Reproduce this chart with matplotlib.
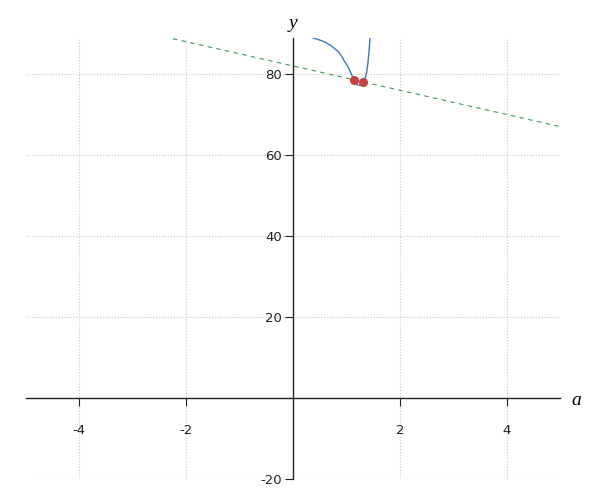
import matplotlib
matplotlib.use('Agg')
import matplotlib.pyplot as plt

# curve
curve_a = [0.33, 0.38, 0.50, 0.60, 0.69, 0.75, 0.85, 0.91, 0.97, 1.02, 1.07, 1.10,
           1.13, 1.16, 1.19, 1.22, 1.25, 1.28, 1.31, 1.35, 1.38, 1.40, 1.42, 1.43, 1.44]
curve_y = [89.1, 88.9, 88.4, 87.9, 87.2, 86.6, 85.5, 84.4, 83.0, 82.0, 80.6, 79.8,
           78.7, 77.9, 77.5, 77.3, 77.2, 77.3, 77.8, 78.9, 80.6, 82.6, 85.2, 87.0, 88.9]

# dashed line
line_a = [-5, 5]
line_y = [97, 67]

# intersection points
pts_a = [1.14, 1.31]
pts_y = [78.5, 78.1]

xticks = [-4, -2, 2, 4]
yticks = [-20, 20, 40, 60, 80]

fig = plt.figure(figsize=(6, 5), dpi=100)
ax = fig.add_axes([0.0425, 0.042, 0.8915, 0.882])

ax.set_xlim(-5, 5)
ax.set_ylim(-20, 88.9)

for x in xticks:
    ax.axvline(x, color='#c8c8c8', linestyle=':', linewidth=0.8, zorder=0)
for y in yticks:
    ax.axhline(y, color='#c8c8c8', linestyle=':', linewidth=0.8, zorder=0)

ax.plot(line_a, line_y, color='#3a9a50', linestyle=(0, (4, 4)), linewidth=0.8)
ax.plot(curve_a, curve_y, color='#3a78c4', linewidth=1.0)
ax.plot(pts_a, pts_y, 'o', color='#c84040', markersize=5.5, zorder=5)

ax.spines['left'].set_position(('data', 0))
ax.spines['bottom'].set_position(('data', 0))
ax.spines['right'].set_visible(False)
ax.spines['top'].set_visible(False)
for s in ('left', 'bottom'):
    ax.spines[s].set_color('#222222')
    ax.spines[s].set_linewidth(1.0)

ax.set_xticks(xticks)
ax.set_yticks(yticks)
ax.set_xticklabels([str(v) for v in xticks])
ax.set_yticklabels([str(v) for v in yticks])
ax.tick_params(axis='x', direction='out', length=6, pad=13, labelsize=9.5, colors='#222222')
ax.tick_params(axis='y', direction='out', length=6, pad=2, labelsize=9.5, colors='#222222')

ax.text(5.2, -0.5, 'a', fontsize=14, family='Liberation Serif', style='italic',
        va='center', ha='left', transform=ax.transData)
ax.text(0, 90.5, 'y', fontsize=14, family='Liberation Serif', style='italic',
        va='bottom', ha='center', transform=ax.transData, clip_on=False)

fig.savefig('out.png', dpi=100)
